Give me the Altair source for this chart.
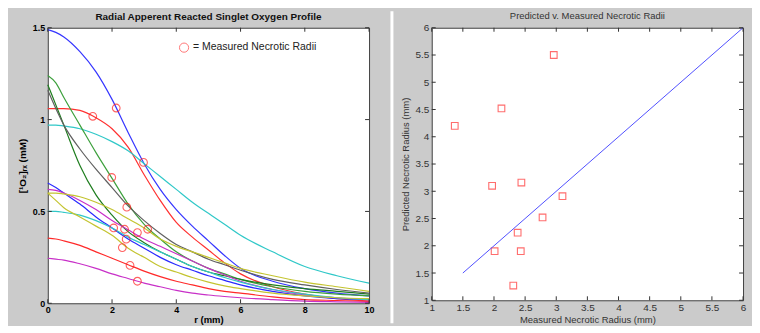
import altair as alt
import pandas as pd

# ---------------- data: left panel ----------------
r_grid = [0, 0.25, 0.5, 1, 1.5, 2, 2.5, 3, 3.5, 4, 4.5, 5, 5.5, 6, 7, 8, 9, 10]

blue_top = [1.49, 1.475, 1.45, 1.37, 1.26, 1.11, 0.93, 0.76, 0.62, 0.51, 0.42, 0.34, 0.26, 0.19, 0.12, 0.08, 0.055, 0.04]
red_top = [1.06, 1.06, 1.06, 1.05, 1.01, 0.95, 0.85, 0.70, 0.56, 0.44, 0.36, 0.29, 0.22, 0.16, 0.09, 0.05, 0.025, 0.012]
cyan_top = [0.97, 0.97, 0.965, 0.95, 0.92, 0.88, 0.83, 0.76, 0.69, 0.62, 0.55, 0.49, 0.43, 0.37, 0.28, 0.20, 0.15, 0.11]
green_light = [1.24, 1.20, 1.12, 0.97, 0.82, 0.68, 0.54, 0.43, 0.35, 0.28, 0.23, 0.19, 0.16, 0.13, 0.09, 0.065, 0.05, 0.04]
green_dark = [1.19, 1.08, 0.97, 0.75, 0.59, 0.48, 0.39, 0.33, 0.28, 0.24, 0.20, 0.17, 0.15, 0.13, 0.10, 0.08, 0.065, 0.05]
gray_curve = [1.16, 1.06, 0.97, 0.84, 0.73, 0.63, 0.53, 0.45, 0.38, 0.32, 0.28, 0.24, 0.21, 0.18, 0.13, 0.10, 0.075, 0.055]
blue_low = [0.655, 0.63, 0.60, 0.54, 0.47, 0.41, 0.35, 0.30, 0.25, 0.21, 0.18, 0.15, 0.125, 0.10, 0.065, 0.04, 0.025, 0.02]
magenta_up = [0.62, 0.615, 0.60, 0.56, 0.51, 0.45, 0.40, 0.35, 0.31, 0.27, 0.23, 0.19, 0.155, 0.12, 0.075, 0.045, 0.03, 0.02]
yellow_up = [0.60, 0.60, 0.595, 0.58, 0.55, 0.51, 0.46, 0.41, 0.35, 0.31, 0.28, 0.25, 0.22, 0.19, 0.15, 0.115, 0.09, 0.065]
cyan_low = [0.50, 0.50, 0.495, 0.48, 0.45, 0.41, 0.36, 0.32, 0.28, 0.24, 0.20, 0.17, 0.14, 0.115, 0.075, 0.05, 0.03, 0.02]
yellow_low = [0.60, 0.56, 0.52, 0.47, 0.42, 0.37, 0.30, 0.25, 0.20, 0.17, 0.14, 0.115, 0.095, 0.08, 0.055, 0.04, 0.03, 0.025]
red_low = [0.355, 0.35, 0.34, 0.315, 0.28, 0.245, 0.21, 0.175, 0.145, 0.12, 0.10, 0.08, 0.065, 0.055, 0.035, 0.02, 0.015, 0.01]
magenta_low = [0.245, 0.24, 0.235, 0.215, 0.19, 0.16, 0.135, 0.11, 0.09, 0.07, 0.055, 0.045, 0.037, 0.03, 0.02, 0.012, 0.008, 0.005]

curve_names = ["blue_top", "red_top", "cyan_top", "green_light", "green_dark", "gray",
               "blue_low", "magenta_up", "yellow_up", "cyan_low", "yellow_low", "red_low", "magenta_low"]
curve_values = [blue_top, red_top, cyan_top, green_light, green_dark, gray_curve,
                blue_low, magenta_up, yellow_up, cyan_low, yellow_low, red_low, magenta_low]
curve_colors = ["#3535ff", "#ff3030", "#30c8c8", "#3ca03c", "#1e7d1e", "#606060",
                "#2a2aff", "#c830c8", "#c4c430", "#30c8c8", "#c4c430", "#ff2a2a", "#c830c8"]

circle_r = [1.40, 2.13, 2.98, 1.99, 2.46, 2.05, 2.39, 2.79, 3.11, 2.44, 2.32, 2.56, 2.79]
circle_v = [1.018, 1.063, 0.767, 0.685, 0.523, 0.41, 0.403, 0.385, 0.403, 0.349, 0.303, 0.206, 0.12]

left_title = "Radial Apperent Reacted Singlet Oxygen Profile"
left_xlabel = "r (mm)"
left_ylabel = "[¹O₂]ᵣₓ (mM)"
legend_label = "= Measured Necrotic Radii"
left_x_ticks = [0, 2, 4, 6, 8, 10]
left_y_ticks = [0, 0.5, 1, 1.5]

# ---------------- data: right panel ----------------
measured = [1.37, 2.12, 2.96, 1.97, 2.44, 3.10, 2.78, 2.38, 2.01, 2.43, 2.31]
predicted = [4.20, 4.52, 5.50, 3.10, 3.16, 2.91, 2.52, 2.24, 1.90, 1.90, 1.27]
fit_x = [1.5, 6.0]
fit_y = [1.5, 6.0]

right_title = "Predicted v. Measured Necrotic Radii"
right_xlabel = "Measured Necrotic Radius (mm)"
right_ylabel = "Predicted Necrotic Radius (mm)"
right_ticks = [1, 1.5, 2, 2.5, 3, 3.5, 4, 4.5, 5, 5.5, 6]

# ---------------- build ----------------
rows = []
for name, vals in zip(curve_names, curve_values):
    for r, v in zip(r_grid, vals):
        rows.append({"curve": name, "r": r, "v": v})
df_lines = pd.DataFrame(rows)
df_circ = pd.DataFrame({"r": circle_r, "v": circle_v})

LW, LH = 323, 277
RW, RH = 313, 274
FONT = "Liberation Sans"
TICK = 4


def ax(values, title, bold, size, tsize, color, lpad, tpad):
    return alt.Axis(values=values, format="~r", title=title, grid=False, domain=False,
                    ticks=False, labelFont=FONT, titleFont=FONT,
                    labelFontWeight="bold" if bold else "normal",
                    titleFontWeight="bold" if bold else "normal",
                    labelFontSize=size, titleFontSize=tsize, labelColor=color, titleColor=color,
                    labelPadding=lpad, titlePadding=tpad, labelFlush=False, labelOverlap=False)


lx = alt.Scale(domain=[0, 10], nice=False, zero=False)
ly = alt.Scale(domain=[0, 1.5], nice=False, zero=False)
lxa = ax(left_x_ticks, left_xlabel, True, 9, 9.5, "#000", 2, 0)
lya = ax(left_y_ticks, left_ylabel, True, 9, 10, "#000", 3, 5)


def LX(f):
    return alt.X(f, type="quantitative", scale=lx, axis=lxa)


def LY(f):
    return alt.Y(f, type="quantitative", scale=ly, axis=lya)


lines = alt.Chart(df_lines).mark_line(strokeWidth=1.2, interpolate="monotone").encode(
    x=LX("r"), y=LY("v"),
    color=alt.Color("curve:N", scale=alt.Scale(domain=curve_names, range=curve_colors), legend=None),
)
circles = alt.Chart(df_circ).mark_point(shape="circle", filled=False, color="#ff2020",
                                         size=60, strokeWidth=1.1).encode(x=LX("r"), y=LY("v"))

leg_df = pd.DataFrame({"t": [legend_label]})
leg_c = alt.Chart(leg_df).mark_point(shape="circle", filled=False, color="#ff4040", size=85,
                                      strokeWidth=1).encode(x=alt.value(137), y=alt.value(20))
leg_t = alt.Chart(leg_df).mark_text(align="left", baseline="middle", font=FONT, fontSize=10.5,
                                     color="#222").encode(text="t:N", x=alt.value(146), y=alt.value(19))

ltitle = alt.Chart(pd.DataFrame({"t": [left_title]})).mark_text(
    align="center", baseline="middle", font=FONT, fontSize=10, fontWeight="bold", color="#111", clip=False
).encode(text="t:N", x=alt.value(LW / 2), y=alt.value(-11))

lxt = pd.DataFrame({"t": left_x_ticks})
lyt = pd.DataFrame({"t": left_y_ticks})
ltick_b = alt.Chart(lxt).mark_rule(color="#333").encode(x=LX("t"), y=alt.value(LH), y2=alt.value(LH - TICK))
ltick_t = alt.Chart(lxt).mark_rule(color="#333").encode(x=LX("t"), y=alt.value(0), y2=alt.value(TICK))
ltick_l = alt.Chart(lyt).mark_rule(color="#333").encode(y=LY("t"), x=alt.value(0), x2=alt.value(TICK))
ltick_r = alt.Chart(lyt).mark_rule(color="#333").encode(y=LY("t"), x=alt.value(LW), x2=alt.value(LW - TICK))

left = alt.layer(lines, circles, leg_c, leg_t, ltitle, ltick_b, ltick_t, ltick_l, ltick_r).properties(
    width=LW, height=LH,
)

rs = alt.Scale(domain=[1, 6], nice=False, zero=False)
rxa = ax(right_ticks, right_xlabel, False, 10, 9.5, "#333", 2, 2)
rya = ax(right_ticks, right_ylabel, False, 10, 9.5, "#333", 3, 4)


def RX(f):
    return alt.X(f, type="quantitative", scale=rs, axis=rxa)


def RY(f):
    return alt.Y(f, type="quantitative", scale=rs, axis=rya)


df_pts = pd.DataFrame({"m": measured, "p": predicted})
df_fit = pd.DataFrame({"m": fit_x, "p": fit_y})

pts = alt.Chart(df_pts).mark_point(shape="square", filled=False, color="#ff3030", size=45,
                                    strokeWidth=1.1).encode(x=RX("m"), y=RY("p"))
fit = alt.Chart(df_fit).mark_line(color="#5050ff", strokeWidth=1).encode(x=RX("m"), y=RY("p"))

rtitle = alt.Chart(pd.DataFrame({"t": [right_title]})).mark_text(
    align="center", baseline="middle", font=FONT, fontSize=9.5, color="#333", clip=False
).encode(text="t:N", x=alt.value(RW / 2), y=alt.value(-12))

rt = pd.DataFrame({"t": right_ticks})
rtick_b = alt.Chart(rt).mark_rule(color="#333").encode(x=RX("t"), y=alt.value(RH), y2=alt.value(RH - TICK))
rtick_t = alt.Chart(rt).mark_rule(color="#333").encode(x=RX("t"), y=alt.value(0), y2=alt.value(TICK))
rtick_l = alt.Chart(rt).mark_rule(color="#333").encode(y=RY("t"), x=alt.value(0), x2=alt.value(TICK))
rtick_r = alt.Chart(rt).mark_rule(color="#333").encode(y=RY("t"), x=alt.value(RW), x2=alt.value(RW - TICK))

gap = alt.Chart(pd.DataFrame({"a": [0]})).mark_rule(color="white", strokeWidth=3, clip=False).encode(
    x=alt.value(-40), y=alt.value(-16.5), y2=alt.value(RH + 23))

right = alt.layer(gap, pts, fit, rtitle, rtick_b, rtick_t, rtick_l, rtick_r).properties(
    width=RW, height=RH,
)

chart = alt.hconcat(left, right, spacing=15).properties(
    padding={"left": 8, "top": 0, "right": 5, "bottom": 0},
    background="#cbcbcb",
).configure_view(fill="white", stroke="#404040", strokeWidth=1)

chart.save("out.html", embed_options={"renderer": "svg", "actions": False})
